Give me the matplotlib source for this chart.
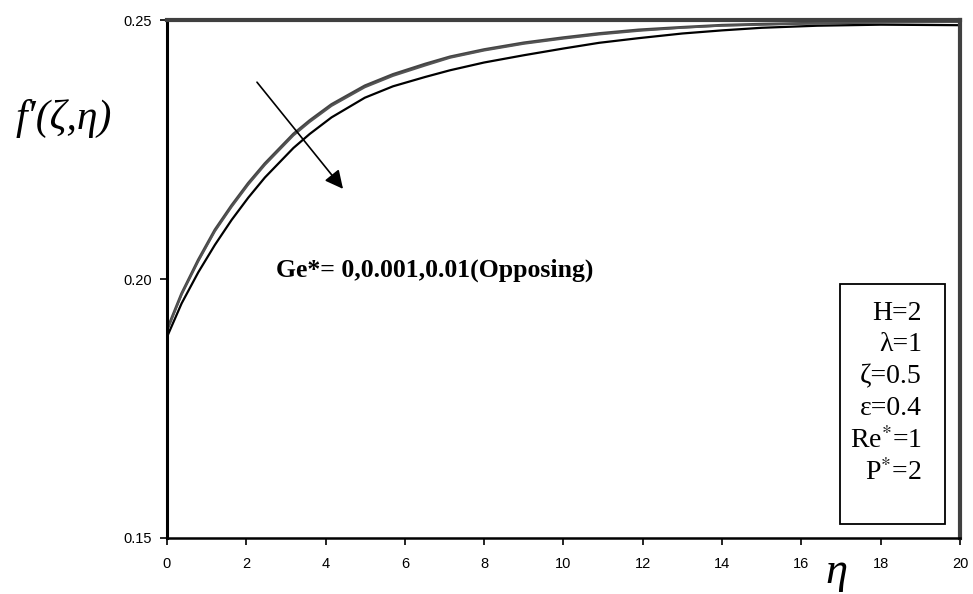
import matplotlib
matplotlib.use("Agg")
import matplotlib.pyplot as plt
from matplotlib.patches import Rectangle

# similarity variable
eta = [0, 0.37, 0.79, 1.21, 1.63, 2.05, 2.47, 3.19, 3.6, 4.15, 4.99, 5.7, 6.51,
       7.14, 8, 9, 10, 10.9, 11.9, 13, 14, 15, 16.4, 18, 20]

# velocity profiles f'(zeta, eta) for Ge* = 0, 0.001, 0.01 (opposing)
f_ge0 = [0.1902, 0.1972, 0.2037, 0.2095, 0.2142, 0.2185, 0.2223, 0.2280, 0.2306,
         0.2337, 0.2373, 0.2395, 0.2415, 0.2429, 0.2443, 0.2456, 0.2466, 0.2474,
         0.2481, 0.2486, 0.2490, 0.2492, 0.2494, 0.2496, 0.2497]
f_ge0001 = [0.1900, 0.1970, 0.2034, 0.2092, 0.2139, 0.2182, 0.2220, 0.2277, 0.2303,
            0.2334, 0.2370, 0.2392, 0.2412, 0.2427, 0.2441, 0.2454, 0.2464, 0.2472,
            0.2479, 0.2485, 0.2489, 0.2491, 0.2494, 0.2496, 0.2496]
f_ge001 = [0.1888, 0.1953, 0.2013, 0.2066, 0.2114, 0.2157, 0.2196, 0.2253, 0.2280,
           0.2312, 0.2350, 0.2372, 0.2390, 0.2403, 0.2418, 0.2432, 0.2445, 0.2456,
           0.2465, 0.2474, 0.2480, 0.2485, 0.2489, 0.2491, 0.2490]

x_ticks = [0, 2, 4, 6, 8, 10, 12, 14, 16, 18, 20]
y_ticks = [0.15, 0.20, 0.25]
params = ["H=2", "λ=1", "ζ=0.5", "ε=0.4", "Re$^{*}$=1", "P$^{*}$=2"]

plt.rcParams["mathtext.fontset"] = "stix"
serif = ["Liberation Serif", "DejaVu Serif"]

fig = plt.figure(figsize=(9.73, 5.94), dpi=100)
ax = fig.add_axes([0.1716, 0.0943, 0.815, 0.872])

ax.plot(eta, f_ge0, color="#444444", lw=2.0)
ax.plot(eta, f_ge0001, color="#555555", lw=1.4)
ax.plot(eta, f_ge001, color="black", lw=1.6)

ax.set_xlim(0, 20)
ax.set_ylim(0.15, 0.25)
ax.set_xticks(x_ticks)
ax.set_yticks(y_ticks)
ax.set_yticklabels([f"{v:.2f}" for v in y_ticks])
for lab in ax.get_xticklabels() + ax.get_yticklabels():
    lab.set_fontfamily("Liberation Sans")
    lab.set_fontsize(10.5)
ax.tick_params(direction="out", length=5, width=1.2, color="black", pad=6)
ax.tick_params(axis="x", pad=9)

ax.spines["left"].set_color("black")
ax.spines["left"].set_linewidth(2.2)
ax.spines["bottom"].set_color("black")
ax.spines["bottom"].set_linewidth(1.8)
ax.spines["top"].set_color("#404040")
ax.spines["top"].set_linewidth(3.0)
ax.spines["right"].set_color("#404040")
ax.spines["right"].set_linewidth(3.0)

# axis labels
fig.text(0.066, 0.80, "f′(ζ,η)", fontsize=30, fontstyle="italic",
         family=serif, ha="center", va="center")
fig.text(0.860, 0.019, "η", fontsize=32, fontstyle="italic",
         family=serif, ha="center", va="baseline")

# parameter trend arrow and label
ax.annotate("", xy=(4.44, 0.2174), xytext=(2.27, 0.2380),
            arrowprops=dict(arrowstyle="-|>,head_length=1.1,head_width=0.55",
                            color="black", lw=1.2, shrinkA=0, shrinkB=0))
ax.text(2.75, 0.2017, "Ge*= 0,0.001,0.01(Opposing)", fontsize=18.5,
        fontweight="bold", family=serif, ha="left", va="center")

# parameter box
ax.add_patch(Rectangle((0.849, 0.027), 0.132, 0.463, transform=ax.transAxes,
                       fill=False, edgecolor="black", lw=1.3))
y0 = 0.434
for i, p in enumerate(params):
    ax.text(0.952, y0 - i * 0.0614, p, transform=ax.transAxes, ha="right",
            va="center", fontsize=20, family=serif)

fig.savefig("out.png", dpi=100)
